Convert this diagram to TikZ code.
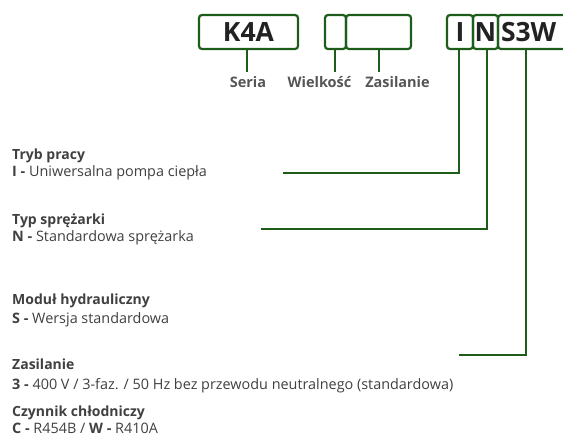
\documentclass[tikz,border=0pt]{standalone}
\usepackage{fontspec}
\setmainfont{Open Sans}
\definecolor{codegreen}{RGB}{30,92,26}
\definecolor{txtgray}{RGB}{64,64,64}
\definecolor{lblgray}{RGB}{85,85,85}
\definecolor{codeblack}{RGB}{34,34,34}
\begin{document}
\begin{tikzpicture}[x=1pt,y=-1pt,
  codebox/.style={draw=codegreen,line width=2.2pt,rounded corners=3pt,inner sep=0pt,
    minimum height=34pt,font=\fontsize{26.5}{28}\selectfont\bfseries,text=codeblack},
  conn/.style={draw=codegreen,line width=2.2pt},
  lbl/.style={font=\fontsize{14.5}{16}\selectfont\bfseries,text=lblgray,inner sep=0pt,anchor=base},
  head/.style={font=\fontsize{14}{16}\selectfont\bfseries,text=txtgray,inner sep=0pt,anchor=base west},
  body/.style={font=\fontsize{14.4}{16}\selectfont,text=txtgray,inner sep=0pt,anchor=base west}]
\useasboundingbox (0,0) rectangle (563,437);
\clip (0,0) rectangle (563,437);
% top boxes
\node[codebox,minimum width=99pt] (k4a) at (248.5,32) {K4A};
\node[codebox,minimum width=21pt] (wiel) at (335.5,32) {};
\node[codebox,minimum width=65pt] (zas) at (378.5,32) {};
\node[codebox,minimum width=26pt] (bi) at (460,32) {I};
\node[codebox,minimum width=25pt] (bn) at (485.5,32) {N};
\node[codebox,minimum width=80pt,text width=74pt,align=left] (bs) at (538,32) {S3W};
% labels under boxes
\node[lbl] (lseria) at (248,87) {Seria};
\node[lbl] (lwiel) at (319.5,87) {Wielkość};
\node[lbl] (lzas) at (397.5,87) {Zasilanie};
\coordinate (ek) at (247,72);
\coordinate (ew) at (335,72);
\coordinate (ez) at (379,72);
\draw[conn] (k4a.south -| ek) -- (ek);
\draw[conn] (wiel.south -| ew) -- (ew);
\draw[conn] (zas.south -| ez) -- (ez);
% descriptions
\node[head] (h1) at (12,159) {Tryb pracy};
\node[body] (b1) at (12,176) {\textbf{I -} Uniwersalna pompa ciepła};
\node[head] (h2) at (12,224) {Typ sprężarki};
\node[body] (b2) at (12,241) {\textbf{N -} Standardowa sprężarka};
\node[head] (h3) at (12,304) {Moduł hydrauliczny};
\node[body] (b3) at (12,323) {\textbf{S -} Wersja standardowa};
\node[head] (h4) at (12,369) {Zasilanie};
\node[body] (b4) at (12,389) {\textbf{3 -} 400 V / 3-faz. / 50 Hz bez przewodu neutralnego (standardowa)};
\node[head] (h5) at (12,416) {Czynnik chłodniczy};
\node[body] (b5) at (12,433) {\textbf{C -} R454B / \textbf{W -} R410A};
% connectors from right code
\coordinate (ci) at (459,173);
\coordinate (ci2) at (283,173);
\coordinate (cn) at (487,229);
\coordinate (cn2) at (261,229);
\coordinate (cs) at (526,355);
\coordinate (cs2) at (459,355);
\draw[conn] (bi.south -| ci) -- (ci) -- (ci2);
\draw[conn] (bn.south -| cn) -- (cn) -- (cn2);
\draw[conn] (bs.south -| cs) -- (cs) -- (cs2);
\end{tikzpicture}
\end{document}
